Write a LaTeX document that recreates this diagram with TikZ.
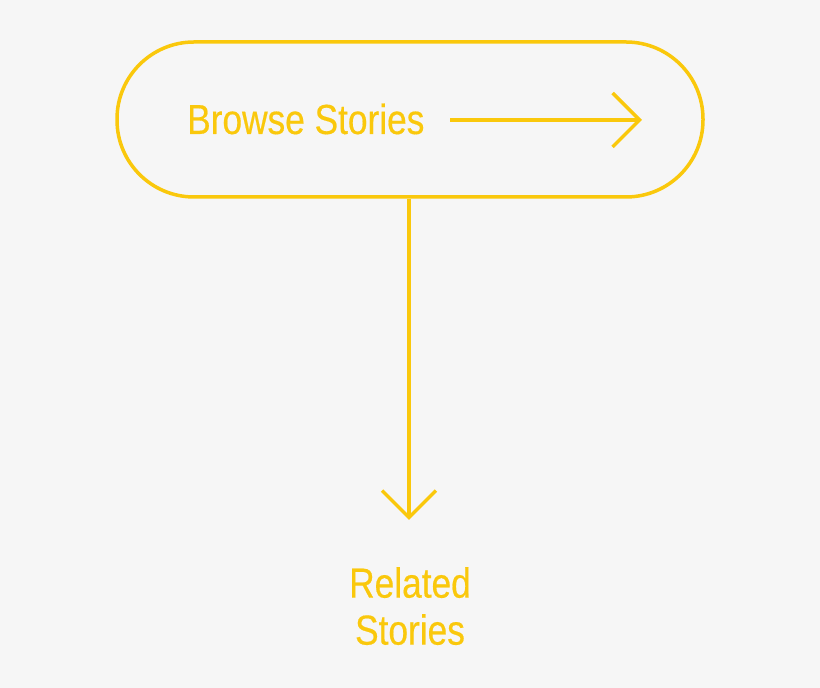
\documentclass[tikz,border=0pt]{standalone}
\usepackage{fontspec}
\setmainfont[FakeStretch=0.84, FakeBold=0.4]{Liberation Sans}
\usepackage{tikz}
\usetikzlibrary{arrows.meta, positioning}
\definecolor{bgrey}{HTML}{F6F6F6}
\definecolor{story}{HTML}{FAC80C}
\tikzset{
    pill/.style={
        draw=story, line width=3.5pt,
        rounded corners=77pt,
        minimum width=586pt, minimum height=155pt,
        inner sep=0pt
    },
    label/.style={
        text=story, font=\fontsize{42}{47}\selectfont,
        inner sep=0pt, align=center
    },
    conn/.style={
        draw=story, line width=3.5pt,
        -{Straight Barb[length=27pt, width=54pt, line width=3.5pt]}
    },
}
\begin{document}
\begin{tikzpicture}[x=1pt, y=1pt]
    \fill[bgrey] (0,0) rectangle (820,688);
    \useasboundingbox (0,0) rectangle (820,688);

    \node[pill] (browse) at (410,568.5) {};
    \node[label, anchor=base west] (browsetxt) at (187,554) {Browse Stories};
    \coordinate (go) at (450,568);
    \coordinate (goend) at (642,568);
    \draw[conn] (go) -- (goend);

    \node[label, anchor=north] (related) at (410,121) {Related\\Stories};
    \coordinate (down) at (409,168);
    \draw[conn] (browse.south -| down) -- (down);
\end{tikzpicture}
\end{document}
